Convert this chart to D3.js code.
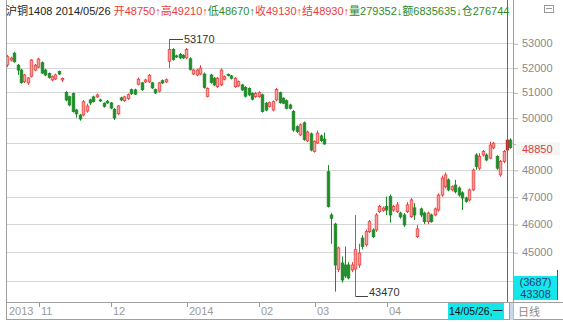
<!DOCTYPE html>
<html><head><meta charset="utf-8">
<script src="https://cdn.jsdelivr.net/npm/d3@7"></script>
<style>
body{margin:0;background:#fff;}
svg{display:block;font-family:"Liberation Sans","Noto Sans CJK SC",sans-serif;}
</style>
</head><body>
<svg id="c" width="563" height="322"></svg>
<script>
// ---- data ----
const opens=[52110,52310,52590,52100,51900,51430,51380,51650,51900,52020,52200,51900,51760,51500,51540,51840,51500,51000,50830,50960,50300,50100,50110,50260,50700,50820,50820,50700,50570,50650,50580,50320,50150,50780,50670,50750,51110,51100,51330,51380,51420,51420,51380,51110,51050,51470,51420,52260,52740,52480,52540,52500,52400,52360,51740,51700,51740,51740,50840,51700,51570,51230,51300,51530,51720,51660,51230,51260,51300,51200,51160,50960,50830,50830,50900,50570,50440,50300,50700,50990,50770,50670,50500,50240,49650,49330,49800,49100,49370,48690,49020,49290,49170,47930,46330,46000,44400,44620,44550,44550,44380,44410,44550,45500,45260,45730,45790,45790,46450,46500,46640,47000,46510,46450,46400,46330,46450,46270,46590,45550,46550,46400,46090,46330,46330,46510,47060,47370,47620,47250,47430,47320,47140,46950,46880,47250,48560,48060,48560,48560,48440,48830,48500,47810,48310,48750,49130];
const highs=[52520,52450,52650,52150,51950,51750,51620,52350,52150,52400,52250,51950,51800,51680,51750,51880,51600,51050,50870,51000,50350,50150,50700,50550,50750,50870,50950,50750,50600,50700,50620,50380,50500,50830,50870,50960,51150,51150,51600,51420,51550,51740,51420,51150,51420,51520,51560,53170,52800,52530,52600,52550,52800,52420,51950,51950,52100,51800,51200,51750,51620,51620,51970,51680,51760,51700,51620,51480,51340,51250,51200,51000,51020,51050,50950,50620,50640,50680,51180,51030,50800,50720,50550,50300,49700,49780,49850,49500,49420,49120,49500,49350,49420,48180,46400,46050,45200,44850,45200,44650,44650,46330,45300,45600,45800,46150,45850,46400,46700,46640,47000,47080,46700,46800,46450,46400,46800,46950,46760,45970,46600,46450,46450,46380,46600,47120,47780,47900,47680,47420,47620,47380,47200,47000,47300,48050,48630,48630,48750,48620,49070,49060,48550,48370,48750,49210,49200];
const lows=[52020,52250,52200,51700,51350,51380,51300,51600,51850,51980,51750,51650,51550,51450,51500,51700,51420,50650,50450,50200,50000,49880,50050,50200,50500,50600,50780,50620,50400,50550,50330,49910,50100,50650,50620,50700,50900,50900,51280,51060,51380,51380,51140,50940,51000,51340,51380,51980,52280,52400,52350,52350,52350,51880,51700,51650,51700,51150,50800,51350,51250,51180,51250,51480,51640,51520,51180,51220,51060,50800,50850,50680,50780,50790,50200,50250,50400,50250,50650,50550,50530,50330,50320,49450,49400,49280,49100,49050,48700,48650,48980,49050,48950,46600,45300,43630,44300,43940,44100,44050,44300,43470,44450,45100,45200,45680,45500,45720,46400,46450,46330,46050,46450,46400,46200,45900,46400,46220,46150,45500,46250,46000,46000,46050,46280,46450,47000,47300,47200,47200,47120,47000,46510,46780,46830,47200,48000,47990,48500,48320,48400,48780,48000,47740,48250,48670,48800];
const closes=[52450,52390,52240,51900,51390,51700,51580,52310,52100,52350,51780,51700,51600,51630,51700,51740,51560,50700,50500,50240,50150,49950,50630,50460,50580,50640,50900,50660,50440,50580,50380,49990,50460,50700,50820,50910,50950,50930,51530,51110,51500,51690,51180,50980,51380,51380,51510,52740,52330,52460,52400,52400,52740,51930,51900,51900,51980,51200,51160,51400,51300,51570,51900,51630,51690,51570,51570,51430,51100,50850,50900,50730,50960,50990,50240,50300,50590,50630,51120,50600,50570,50370,50370,49520,49460,49720,49150,49440,48750,49070,49400,49110,48980,46640,46210,44550,45150,44030,44170,44100,44550,45090,44970,45200,45730,46090,45550,46330,46640,46580,46510,46330,46640,46700,46260,45970,46700,46880,46330,45830,46330,46090,46400,46090,46550,47060,47690,47810,47250,47370,47180,47060,46950,46820,47250,47990,48120,48500,48690,48370,48940,49010,48060,48310,48690,49130,48850];

const yTicks=[53000,52000,51000,50000,49000,48000,47000,46000,45000,44000];
const firstAxisLabel="2013";
const monthTickLabels=["11","12","2014","02","03","04"];
const monthTickIndex=[8,29,51,72,88,109];

const contractName="沪铜1408";
const cursorDate="2014/05/26";
const cursorDateShort="14/05/26,一";
const cursorIndex=145;
const cursorY=["(3687)","43308"];
const lastPrice=48850;
const periodLabel="日线";
const titleNames=["开","高","低","收","结","量","额","仓"];
const titleValues=["48750","49210","48670","49130","48930","279352","6835635","276744"];
const titleArrows=["↑","↑","↑","↑","↑","↓","↓",""];
const titleUp=[true,true,false,true,true,false,false,false];

// ---- drawing ----
const RED="#e8403c", RED_FILL="#f5a0a0", GREEN="#1e8a28", GRID="#d6d6d6";
const svg=d3.select("#c");
const N=opens.length;
const x=d3.scaleBand().domain(d3.range(N)).range([5.5,512.2]);
const cx=i=>x(i)+x.bandwidth()/2;
const y=d3.scaleLog().domain([43000,53000]).range([310.2,43.3]);

const plotBottom=302, plotLeft=6, plotRight=513;
const lpY=y(lastPrice);

const defs=svg.append("defs");
defs.append("clipPath").attr("id","pc")
  .append("rect").attr("x",plotLeft).attr("y",0).attr("width",plotRight-plotLeft).attr("height",plotBottom);
// the axis column: labels hidden behind the last-price and cursor boxes are clipped away
defs.append("clipPath").attr("id","ac").append("path")
  .attr("d",`M0,0H60V${Math.round(lpY)-5}H0Z M0,${Math.round(lpY)+8}H60V276H0Z`);

// grid
svg.append("g").selectAll("line").data(yTicks).join("line")
  .attr("x1",plotLeft).attr("x2",plotRight)
  .attr("y1",d=>Math.round(y(d))+0.5).attr("y2",d=>Math.round(y(d))+0.5)
  .attr("stroke",GRID).attr("stroke-width",1);

// right axis
const ax=svg.append("g").attr("transform",`translate(${plotRight},0)`)
  .call(d3.axisRight(y).tickValues(yTicks).tickFormat(d3.format("d")).tickSize(5).tickPadding(4));
ax.select(".domain").remove();
ax.selectAll(".tick line").attr("stroke","#b8b8b8").attr("transform","translate(0,0.5)");
ax.selectAll(".tick text").attr("fill","#8a8a8a").attr("font-size","11px")
  .attr("font-family","Liberation Sans, sans-serif").attr("x",9);
// labels fully covered in the reference are not shown
ax.selectAll(".tick").filter(d=>y(d)>276||Math.abs(y(d)-lpY)<5).select("text").remove();

// candles
const g=svg.append("g").attr("clip-path","url(#pc)");
const idx=d3.range(N);
const up=i=>closes[i]>=opens[i];
const bw=2.6;
g.selectAll("line.w").data(idx).join("line").attr("class","w")
  .attr("x1",i=>Math.round(cx(i))+0.5).attr("x2",i=>Math.round(cx(i))+0.5)
  .attr("y1",i=>y(highs[i])).attr("y2",i=>y(lows[i]))
  .attr("stroke",i=>up(i)?RED:GREEN).attr("stroke-width",1);
g.selectAll("rect.b").data(idx).join("rect").attr("class","b")
  .attr("x",i=>Math.round(cx(i))+0.5-bw/2)
  .attr("width",bw)
  .attr("y",i=>y(Math.max(opens[i],closes[i])))
  .attr("height",i=>Math.max(1,y(Math.min(opens[i],closes[i]))-y(Math.max(opens[i],closes[i]))))
  .attr("fill",i=>i===cursorIndex?"#b02020":(up(i)?RED_FILL:GREEN))
  .attr("stroke",i=>i===cursorIndex?"#b02020":(up(i)?RED:GREEN)).attr("stroke-width",0.8);

// high / low marks
const hi=d3.maxIndex(highs), lo=d3.minIndex(lows);
const hy=y(highs[hi]), ly=y(lows[lo]);
svg.append("line").attr("x1",Math.round(cx(hi))+0.5).attr("x2",Math.round(cx(hi))+14)
  .attr("y1",Math.round(hy)+0.5).attr("y2",Math.round(hy)+0.5).attr("stroke","#444");
svg.append("text").attr("x",Math.round(cx(hi))+15).attr("y",hy).attr("dy","0.35em")
  .attr("font-size","11px").attr("fill","#333").text(highs[hi]);
svg.append("line").attr("x1",Math.round(cx(lo))+0.5).attr("x2",Math.round(cx(lo))+13)
  .attr("y1",Math.round(ly)+0.5).attr("y2",Math.round(ly)+0.5).attr("stroke","#444");
svg.append("text").attr("x",Math.round(cx(lo))+14).attr("y",ly-0.5)
  .attr("font-size","11px").attr("fill","#333").text(lows[lo]);

// frame
svg.append("line").attr("x1",plotLeft+0.5).attr("x2",plotLeft+0.5).attr("y1",0).attr("y2",320).attr("stroke","#a0a0a0");
svg.append("line").attr("x1",plotRight+0.5).attr("x2",plotRight+0.5).attr("y1",0).attr("y2",320).attr("stroke","#a0a0a0");
svg.append("line").attr("x1",plotLeft).attr("x2",563).attr("y1",plotBottom+0.5).attr("y2",plotBottom+0.5).attr("stroke","#a0a0a0");
svg.append("line").attr("x1",plotLeft).attr("x2",563).attr("y1",319.5).attr("y2",319.5).attr("stroke","#a0a0a0");
svg.append("rect").attr("x",509.5).attr("y",plotBottom+1).attr("width",4).attr("height",17).attr("fill","#c6d9ef");
svg.append("line").attr("x1",509.5).attr("x2",509.5).attr("y1",plotBottom).attr("y2",320).attr("stroke","#a0a0a0");

// cursor
const cxx=Math.round(cx(cursorIndex))+0.5;
svg.append("line").attr("x1",cxx).attr("x2",cxx).attr("y1",0).attr("y2",plotBottom).attr("stroke","#6a6a6a");

// x axis labels
const xa=svg.append("g").attr("font-size","11px").attr("fill","#9a9a9a");
xa.append("text").attr("x",9).attr("y",315).text(firstAxisLabel);
monthTickIndex.forEach((m,k)=>{
  const tx=Math.round(cx(m)+4)+0.5;
  xa.append("line").attr("x1",tx).attr("x2",tx).attr("y1",plotBottom+1).attr("y2",plotBottom+5).attr("stroke","#999");
  xa.append("text").attr("x",tx+1.5).attr("y",315).text(monthTickLabels[k]);
});
// date cursor box
svg.append("rect").attr("x",448).attr("y",plotBottom+1).attr("width",56).attr("height",16.5).attr("fill","#14e6ea");
svg.append("text").attr("x",449).attr("y",315).attr("font-size","11px").attr("fill","#111")
  .attr("textLength",54).attr("lengthAdjust","spacingAndGlyphs").text(cursorDateShort);
svg.append("text").attr("x",518).attr("y",315.5).attr("font-size","11px").attr("fill","#8a8a8a")
  .attr("font-family","Noto Sans CJK SC").text(periodLabel);

// last price label
svg.append("rect").attr("x",516).attr("y",lpY-5).attr("width",44).attr("height",13).attr("fill","#f3f6f3");
svg.append("text").attr("x",522).attr("y",lpY+1.5).attr("dy","0.35em").attr("font-size","11px").attr("fill","#e03a3a").text(lastPrice);

// right cursor box
svg.append("rect").attr("x",514).attr("y",276).attr("width",43).attr("height",24).attr("fill","#14e6ea");
svg.append("line").attr("x1",557.5).attr("x2",557.5).attr("y1",270).attr("y2",300).attr("stroke","#555");
svg.append("text").attr("x",535.5).attr("y",286).attr("text-anchor","middle").attr("font-size","11px").attr("fill","#1d3c7a").text(cursorY[0]);
svg.append("text").attr("x",535.5).attr("y",298).attr("text-anchor","middle").attr("font-size","11px").attr("fill","#1d3c7a").text(cursorY[1]);

// icon
svg.append("rect").attr("x",544.5).attr("y",5.5).attr("width",9).attr("height",7).attr("fill","none").attr("stroke","#999");
svg.append("line").attr("x1",546).attr("x2",552).attr("y1",8.5).attr("y2",8.5).attr("stroke","#999");

// title
const tg=svg.append("g").attr("clip-path","url(#pc)");
const title=tg.append("text").attr("x",6).attr("y",15).attr("font-size","11px");
title.append("tspan").attr("fill","#222").text(contractName+" "+cursorDate+" ");
const GREEN_T="#2e8b2e", RED_T="#e83e3e";
titleNames.forEach((n,k)=>{
  title.append("tspan").attr("fill",titleUp[k]?RED_T:GREEN_T).text(n+titleValues[k]+titleArrows[k]);
});
const tl=title.node().getComputedTextLength();
if(tl>510) title.attr("textLength",510).attr("lengthAdjust","spacingAndGlyphs");
</script>
</body></html>
